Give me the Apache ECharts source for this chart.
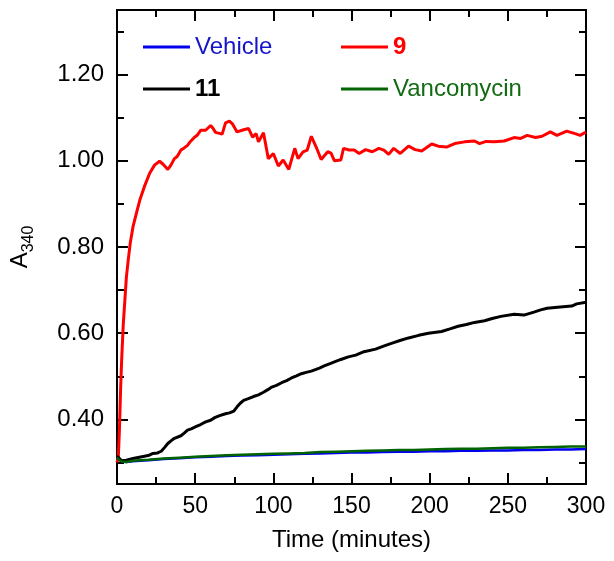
<!DOCTYPE html>
<html>
<head>
<meta charset="utf-8">
<script src="https://cdn.jsdelivr.net/npm/echarts@6/dist/echarts.min.js"></script>
<style>
html,body{margin:0;padding:0;background:#fff;}
#c{width:614px;height:561px;}
</style>
</head>
<body>
<div id="c"></div>
<script>
const seriesNames = ['Vehicle', '9', '11', 'Vancomycin'];
const yMajorTicks = [0.4, 0.6, 0.8, 1.0, 1.2];
const yMinorTicks = [0.3, 0.5, 0.7, 0.9, 1.1, 1.3];

const vehicle = [[0,0.312],[1,0.307],[3,0.302],[6,0.301],[10,0.303],[20,0.305],[30,0.308],[40,0.310],[50,0.312],[60,0.313],[70,0.315],[80,0.316],[90,0.317],[100,0.318],[110,0.319],[120,0.320],[130,0.321],[140,0.322],[150,0.323],[160,0.323],[170,0.324],[180,0.325],[190,0.325],[200,0.326],[210,0.326],[220,0.327],[230,0.327],[240,0.328],[250,0.328],[260,0.329],[270,0.329],[280,0.330],[290,0.330],[300,0.331]];

const cmpd9 = [[0,0.300],[0.8,0.31],[1.5,0.37],[2.3,0.47],[3,0.54],[4,0.62],[5.1,0.68],[6,0.73],[7.2,0.77],[8.5,0.81],[10.3,0.848],[12.5,0.88],[14.6,0.909],[17.5,0.94],[20.9,0.971],[24,0.99],[27.2,0.999],[29.5,0.992],[32.5,0.980],[34.5,0.99],[36.7,1.005],[38.5,1.01],[40.9,1.025],[43,1.03],[45.1,1.036],[47,1.045],[49.4,1.054],[51.5,1.06],[53.6,1.071],[56.7,1.071],[59.9,1.082],[61.5,1.075],[63,1.066],[67.3,1.062],[69.4,1.088],[71.9,1.092],[74,1.085],[76.8,1.067],[81.0,1.072],[84.2,1.075],[86.7,1.055],[89.0,1.063],[90.5,1.044],[93.7,1.065],[96.8,1.005],[100,1.017],[103.2,0.988],[106.3,1.002],[109.9,0.980],[113.7,1.029],[115.8,1.005],[119,1.021],[121.7,1.025],[124.3,1.057],[127.4,1.032],[130.6,1.003],[134.8,1.021],[136.9,1.018],[139.1,1.000],[143.2,1.002],[144.9,1.029],[148.5,1.025],[151.7,1.025],[154.9,1.017],[159,1.026],[163.3,1.021],[167.5,1.029],[170.7,1.025],[173.8,1.015],[177,1.029],[181.2,1.017],[186.5,1.034],[190.7,1.026],[194.9,1.023],[201.3,1.039],[205.5,1.034],[210.8,1.032],[216,1.040],[222.4,1.044],[228.7,1.046],[231.9,1.040],[236.1,1.045],[241.3,1.044],[247.7,1.046],[254,1.054],[258.2,1.052],[262.4,1.059],[267.7,1.054],[271.9,1.057],[277.2,1.067],[281.4,1.059],[287.7,1.069],[293,1.063],[296.2,1.059],[300,1.067]];

const cmpd11 = [[0,0.315],[1,0.312],[3,0.304],[6,0.305],[10.3,0.309],[16.7,0.314],[20,0.316],[23,0.321],[26,0.322],[28.3,0.326],[30.5,0.335],[32.5,0.344],[34.5,0.350],[36.7,0.356],[40.9,0.362],[43,0.368],[45.1,0.375],[47.5,0.378],[50.4,0.383],[53.5,0.388],[56.7,0.394],[59.9,0.398],[62.5,0.404],[65.2,0.408],[69.4,0.413],[72,0.415],[74.7,0.419],[76.8,0.429],[79,0.438],[81.0,0.444],[84,0.448],[87.3,0.453],[90.5,0.457],[93.7,0.463],[96.5,0.469],[99,0.475],[102,0.479],[105.3,0.485],[108.5,0.490],[111.6,0.496],[114.8,0.501],[117.9,0.506],[121,0.509],[124.3,0.512],[129.5,0.519],[132.5,0.524],[135.9,0.529],[139.5,0.534],[143.2,0.539],[148,0.545],[152.7,0.549],[158,0.557],[165.4,0.563],[170.5,0.570],[176,0.577],[181,0.583],[186.5,0.589],[193,0.595],[199.2,0.600],[207.6,0.604],[213,0.610],[218.2,0.616],[223.5,0.620],[228.7,0.625],[235.1,0.629],[240,0.634],[245.6,0.639],[254,0.644],[260.3,0.642],[266.7,0.649],[271,0.654],[275.1,0.658],[283.5,0.661],[290.9,0.663],[294,0.668],[300,0.672]];

const vancomycin = [[0,0.312],[1,0.307],[3,0.302],[6,0.301],[10,0.304],[20,0.306],[30,0.309],[40,0.311],[50,0.313],[60,0.315],[70,0.317],[80,0.318],[90,0.319],[100,0.320],[110,0.321],[120,0.322],[130,0.324],[140,0.325],[150,0.326],[160,0.327],[170,0.328],[180,0.329],[190,0.329],[200,0.330],[210,0.331],[220,0.332],[230,0.332],[240,0.333],[250,0.334],[260,0.334],[270,0.335],[280,0.336],[290,0.337],[300,0.337]];

const FONT = 'Liberation Sans, Arial, sans-serif';
const colors = ['#0000ee', '#ff0000', '#000000', '#006400'];
const textColors = ['#1414c8', '#ff0000', '#000000', '#126b12'];
const widths = [2.5, 3, 3, 2.5];

const chart = echarts.init(document.getElementById('c'), null, {renderer: 'canvas'});

const Y_MIN = 0.25, Y_MAX = 1.35;
function yAx(pos, ticks, len, labels, name) {
  const a = {
    type: 'value', position: pos, min: Y_MIN, max: Y_MAX,
    axisLine: {show: true, lineStyle: {color: '#000', width: 2}},
    axisTick: {show: true, inside: true, length: len, lineStyle: {color: '#000', width: 2}, customValues: ticks},
    axisLabel: {show: labels, customValues: ticks, margin: 13, fontSize: 24, fontFamily: FONT, color: '#000',
      formatter: v => v.toFixed(2)},
    splitLine: {show: false}
  };
  if (name) {
    a.name = '{a|A}{s|340}';
    a.nameLocation = 'middle';
    a.nameRotate = 90;
    a.nameGap = 80;
    a.nameTextStyle = {
      fontFamily: FONT, color: '#000',
      rich: {
        a: {fontSize: 24, fontFamily: FONT, lineHeight: 34, verticalAlign: 'middle'},
        s: {fontSize: 16, fontFamily: FONT, lineHeight: 18, verticalAlign: 'bottom'}
      }
    };
  }
  return a;
}
function xAx(pos, labels, name) {
  const a = {
    type: 'value', position: pos, min: 0, max: 300, interval: 50,
    axisLine: {show: true, lineStyle: {color: '#000', width: 2}},
    axisTick: {show: true, inside: true, length: 11, lineStyle: {color: '#000', width: 2}},
    minorTick: {show: true, splitNumber: 2, length: 7, lineStyle: {color: '#000', width: 2}},
    axisLabel: {show: labels, margin: 11, fontSize: 23, fontFamily: FONT, color: '#000'},
    splitLine: {show: false}, minorSplitLine: {show: false}
  };
  if (name) {
    a.name = 'Time (minutes)';
    a.nameLocation = 'middle';
    a.nameGap = 44;
    a.nameTextStyle = {fontSize: 24, fontFamily: FONT, color: '#000'};
  }
  return a;
}

const datasets = [vehicle, cmpd9, cmpd11, vancomycin];
const legendPos = [[143, 35], [341, 35], [143, 77], [341, 77]];
const boldFlags = ['normal', 'bold', 'bold', 'normal'];

const option = {
  animation: false,
  backgroundColor: '#fff',
  grid: {left: 112, right: 28, top: 10, bottom: 77, containLabel: false},
  xAxis: [xAx('bottom', true, true), xAx('top', false, false)],
  yAxis: [
    yAx('left', yMajorTicks, 11, true, true),
    yAx('left', yMinorTicks, 7, false, false),
    yAx('right', yMajorTicks, 11, false, false),
    yAx('right', yMinorTicks, 7, false, false)
  ],
  legend: seriesNames.map((n, i) => ({
    data: [n], left: legendPos[i][0], top: legendPos[i][1], selectedMode: false,
    icon: 'rect', itemWidth: 47, itemHeight: 3, padding: 0,
    textStyle: {fontSize: 24, fontFamily: FONT, color: textColors[i], fontWeight: boldFlags[i]}
  })),
  series: seriesNames.map((n, i) => ({
    name: n, type: 'line', data: datasets[i], xAxisIndex: 0, yAxisIndex: 0,
    showSymbol: false, symbol: 'none', smooth: false,
    lineStyle: {color: colors[i], width: widths[i]}, itemStyle: {color: colors[i]}
  }))
};
chart.setOption(option);
</script>
</body>
</html>
